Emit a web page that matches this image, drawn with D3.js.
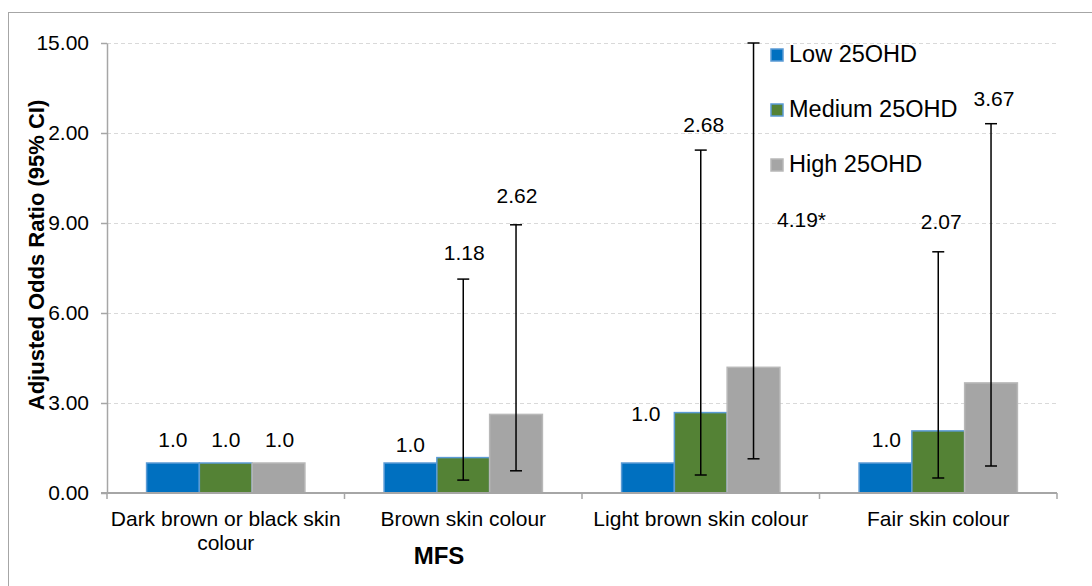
<!DOCTYPE html>
<html><head><meta charset="utf-8">
<script src="https://cdn.jsdelivr.net/npm/d3@7"></script>
<style>
html,body{margin:0;padding:0;background:#fff;}
svg{display:block;font-family:"Liberation Sans",Arial,sans-serif;}
</style>
</head><body>
<svg id="chart" width="1092" height="586"></svg>
<script>
// ---------- data ----------
const categories = ["Dark brown or black skin colour", "Brown skin colour", "Light brown skin colour", "Fair skin colour"];
const series = ["Low 25OHD", "Medium 25OHD", "High 25OHD"];
const lowValues = [1.0, 1.0, 1.0, 1.0];
const mediumValues = [1.0, 1.18, 2.68, 2.07];
const highValues = [1.0, 2.62, 4.19, 3.67];
const lowCiLow = [null, null, null, null];
const lowCiHigh = [null, null, null, null];
const mediumCiLow = [null, 0.43, 0.60, 0.50];
const mediumCiHigh = [null, 7.13, 11.43, 8.04];
const highCiLow = [null, 0.74, 1.14, 0.90];
const highCiHigh = [null, 8.94, 15.0, 12.31];
const lowLabels = ["1.0", "1.0", "1.0", "1.0"];
const mediumLabels = ["1.0", "1.18", "2.68", "2.07"];
const highLabels = ["1.0", "2.62", "4.19*", "3.67"];
const yTicks = [0, 3, 6, 9, 12, 15];
const yTickLabels = ["0.00", "3.00", "6.00", "9.00", "2.00", "15.00"];
const yTitle = "Adjusted Odds Ratio (95% CI)";
const xTitle = "MFS";

// ---------- layout (kept apart from data) ----------
const colors = ["#0070C0", "#548235", "#A5A5A5"];
const strokes = ["#5B9BD5", "#5B9BD5", "#B8B8B8"];
// manual label placement (pixels): dx from bar centre, dy above whisker/bar top
const labelShift = [
  [[0, 16], [0, 11], [-2, 42], [1, 16]],
  [[0, 16], [1, 19], [3, 18], [3, 23]],
  [[1, 16], [1, 22], [48, -184], [3, 18]]
];

const seriesData = series.map((s, i) => ({
  name: s,
  values: [lowValues, mediumValues, highValues][i],
  lo: [lowCiLow, mediumCiLow, highCiLow][i],
  hi: [lowCiHigh, mediumCiHigh, highCiHigh][i],
  labels: [lowLabels, mediumLabels, highLabels][i],
  color: colors[i],
  stroke: strokes[i]
}));

const svg = d3.select("#chart");
const plot = {left: 107, right: 1057, top: 43, bottom: 493};

// outer chart border
svg.append("rect").attr("x", 8.5).attr("y", 12.5).attr("width", 1090).attr("height", 590)
  .attr("fill", "#fff").attr("stroke", "#A6A6A6").attr("stroke-width", 1);

const x0 = d3.scaleBand().domain(categories).range([plot.left, plot.right]).padding(0);
const x1 = d3.scaleBand().domain(series).range([0, x0.bandwidth()]).paddingInner(0).paddingOuter(0.75);
const y = d3.scaleLinear().domain([0, 15]).range([plot.bottom, plot.top]);

// gridlines
svg.append("g").selectAll("line").data(yTicks.filter(d => d > 0)).join("line")
  .attr("x1", plot.left).attr("x2", plot.right)
  .attr("y1", d => y(d) + 0.5).attr("y2", d => y(d) + 0.5)
  .attr("stroke", "#D9D9D9").attr("stroke-width", 1).attr("stroke-dasharray", "4,3");

// bars
const groups = svg.append("g").selectAll("g").data(seriesData).join("g");
groups.selectAll("rect").data(s => s.values.map((v, j) => ({s, v, j}))).join("rect")
  .attr("x", d => x0(categories[d.j]) + x1(d.s.name))
  .attr("y", d => y(d.v))
  .attr("width", x1.bandwidth())
  .attr("height", d => y(0) - y(d.v))
  .attr("fill", d => d.s.color)
  .attr("stroke", d => d.s.stroke).attr("stroke-width", 1.5);

// y axis
const yAxis = svg.append("g").attr("transform", `translate(${plot.left},0)`)
  .call(d3.axisLeft(y).tickValues(yTicks).tickSize(6).tickSizeOuter(0).tickPadding(12)
    .tickFormat((d, i) => yTickLabels[i]));
yAxis.select(".domain").attr("stroke", "#A6A6A6").attr("stroke-width", 1.5);
yAxis.selectAll(".tick line").attr("stroke", "#A6A6A6").attr("stroke-width", 1.5);
yAxis.selectAll(".tick text").attr("font-size", 21).attr("fill", "#000")
  .attr("font-family", "Liberation Sans, Arial, sans-serif");

// x axis
const bounds = categories.map(c => x0(c)).concat([plot.right]);
const xAxis = svg.append("g");
xAxis.append("line").attr("x1", plot.left - 6).attr("x2", plot.right)
  .attr("y1", plot.bottom).attr("y2", plot.bottom)
  .attr("stroke", "#A6A6A6").attr("stroke-width", 2);
xAxis.selectAll("line.tk").data(bounds).join("line").attr("class", "tk")
  .attr("x1", d => d).attr("x2", d => d).attr("y1", plot.bottom).attr("y2", plot.bottom + 6)
  .attr("stroke", "#A6A6A6").attr("stroke-width", 1.5);

// category labels with wrapping
const catText = xAxis.selectAll("text.cat").data(categories).join("text").attr("class", "cat")
  .attr("x", d => x0(d) + x0.bandwidth() / 2).attr("y", 526)
  .attr("text-anchor", "middle").attr("font-size", 21).attr("fill", "#000");
catText.each(function(d) {
  const t = d3.select(this);
  const words = d.split(" ");
  const cx = x0(d) + x0.bandwidth() / 2;
  let line = [];
  let ts = t.append("tspan").attr("x", cx).attr("dy", 0);
  words.forEach(w => {
    line.push(w);
    ts.text(line.join(" "));
    if (ts.node().getComputedTextLength() > x0.bandwidth() - 4 && line.length > 1) {
      line.pop();
      ts.text(line.join(" "));
      line = [w];
      ts = t.append("tspan").attr("x", cx).attr("dy", 24).text(w);
    }
  });
});

// error bars
const eb = svg.append("g");
seriesData.forEach(s => {
  s.values.forEach((v, j) => {
    if (s.lo[j] == null) return;
    const cx = x0(categories[j]) + x1(s.name) + x1.bandwidth() / 2;
    eb.append("line").attr("x1", cx).attr("x2", cx).attr("y1", y(s.lo[j])).attr("y2", y(s.hi[j]))
      .attr("stroke", "#000").attr("stroke-width", 1.5);
    [s.lo[j], s.hi[j]].forEach(e => {
      eb.append("line").attr("x1", cx - 6).attr("x2", cx + 6).attr("y1", y(e)).attr("y2", y(e))
        .attr("stroke", "#000").attr("stroke-width", 1.5);
    });
  });
});

// data labels
const lab = svg.append("g");
seriesData.forEach((s, i) => {
  s.values.forEach((v, j) => {
    const cx = x0(categories[j]) + x1(s.name) + x1.bandwidth() / 2;
    const top = y(s.hi[j] != null ? s.hi[j] : v);
    const [dx, dy] = labelShift[i][j];
    lab.append("text").attr("x", cx + dx).attr("y", top - dy)
      .attr("text-anchor", "middle").attr("font-size", 21).attr("fill", "#000")
      .text(s.labels[j]);
  });
});

// legend
const legend = svg.append("g");
seriesData.forEach((s, i) => {
  const by = 62 + i * 55;
  legend.append("rect").attr("x", 771).attr("y", by - 13).attr("width", 12).attr("height", 12)
    .attr("fill", s.color).attr("stroke", s.stroke).attr("stroke-width", 1.5);
  legend.append("text").attr("x", 789).attr("y", by).attr("font-size", 23.5).attr("fill", "#000").text(s.name);
});

// axis titles
svg.append("text").attr("transform", "translate(44,255) rotate(-90)")
  .attr("text-anchor", "middle").attr("font-size", 22).attr("font-weight", "bold").attr("fill", "#000")
  .text(yTitle);
svg.append("text").attr("x", 439).attr("y", 564).attr("text-anchor", "middle")
  .attr("font-size", 24).attr("font-weight", "bold").attr("fill", "#000").text(xTitle);
</script>
</body></html>
